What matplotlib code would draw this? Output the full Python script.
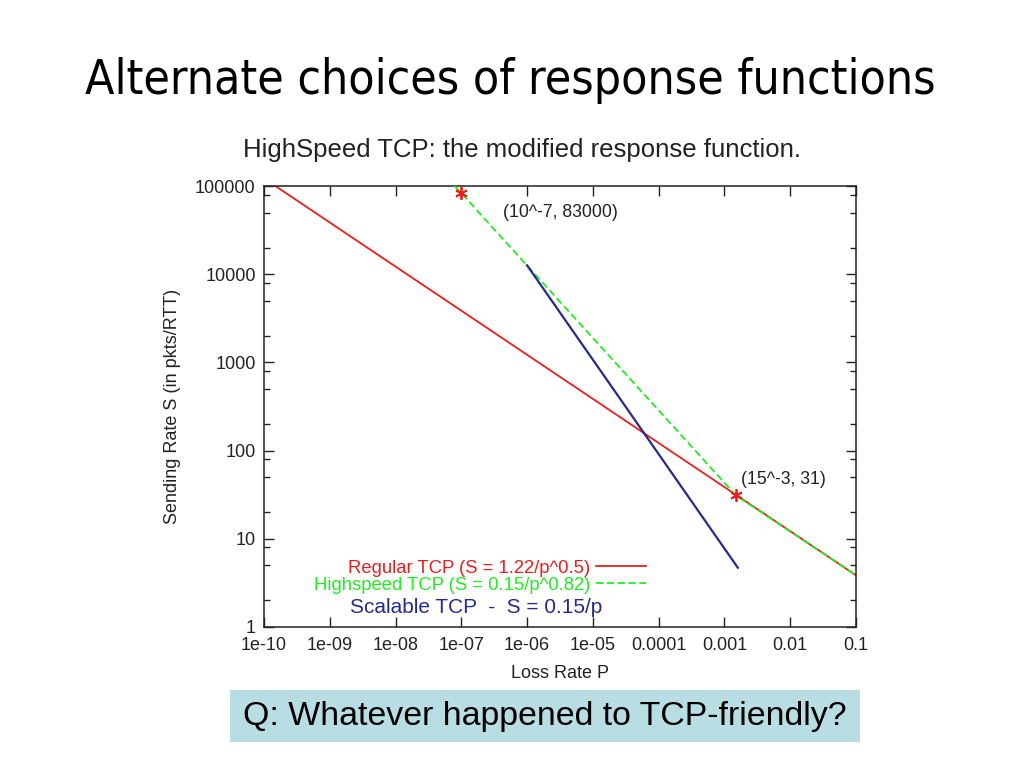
import numpy as np
import matplotlib
matplotlib.use("Agg")
import matplotlib.pyplot as plt
from matplotlib.patches import Rectangle
from matplotlib.ticker import FixedLocator, NullLocator

# Werte (log-log Geraden, Endpunkte reichen)
regular_p = [1.49e-10, 0.0015, 0.1]
regular_s = [100000, 31.5, 3.86]

highspeed_p = [7.9e-8, 1e-7, 0.0015, 0.1]
highspeed_s = [100000, 83000, 31, 3.86]

scalable_p = [1.0e-6, 1.6e-3]
scalable_s = [12600, 4.7]

points_p = [1e-7, 0.0015]
points_s = [83000, 31]
point_labels = ["(10^-7, 83000)", "(15^-3, 31)"]

x_ticks = [1e-10, 1e-9, 1e-8, 1e-7, 1e-6, 1e-5, 1e-4, 1e-3, 1e-2, 1e-1]
x_labels = ["1e-10", "1e-09", "1e-08", "1e-07", "1e-06", "1e-05",
            "0.0001", "0.001", "0.01", "0.1"]
y_ticks = [1, 10, 100, 1000, 10000, 100000]
y_labels = ["1", "10", "100", "1000", "10000", "100000"]
y_minor = [m * 10.0 ** k for k in range(0, 5) for m in (2, 5, 8)]

plt.rcParams['font.family'] = ['Liberation Sans', 'DejaVu Sans']

fig = plt.figure(figsize=(10.24, 7.68), dpi=100)
fig.patch.set_facecolor('white')

# Folientitel
fig.text(0.498, 0.895, "Alternate choices of response functions",
         ha='center', va='center', fontsize=34.5, family=['DejaVu Sans'],
         fontstretch='condensed', color='black')

ax = fig.add_axes([0.2578, 0.1836, 0.5781, 0.5742])
ax.set_xscale('log')
ax.set_yscale('log')
ax.set_xlim(1e-10, 0.1)
ax.set_ylim(1, 100000)

red = '#f01c1c'
green = '#1ef01e'
blue = '#262a8c'

ax.plot(regular_p, regular_s, color=red, lw=1.3, zorder=2,
        label="Regular TCP (S = 1.22/p^0.5)")
ax.plot(highspeed_p, highspeed_s, color=green, lw=1.3, ls=(0, (4, 2)),
        zorder=3, label="Highspeed TCP (S = 0.15/p^0.82)")
ax.plot(scalable_p, scalable_s, color=blue, lw=1.6, zorder=4)
ax.plot(points_p, points_s, ls='none', marker=(6, 2, 0), ms=9, mew=1.3,
        color=red, zorder=5, clip_on=False)

ax.text(10 ** -6.37, 10 ** 4.694, point_labels[0], ha='left', va='center',
        fontsize=12.7, color='#222222')
ax.text(10 ** -2.75, 10 ** 1.678, point_labels[1], ha='left', va='center',
        fontsize=12.7, color='#222222')

leg = ax.legend(loc='upper right', bbox_to_anchor=(0.645, 0.153),
                frameon=False, markerfirst=False, fontsize=13.3,
                handlelength=2.7, handletextpad=0.3, labelspacing=0.0,
                borderpad=0, borderaxespad=0, labelcolor='linecolor')

ax.text(0.145, 0.045, "Scalable TCP  -  S = 0.15/p", transform=ax.transAxes,
        ha='left', va='center', fontsize=15, color=blue)

ax.xaxis.set_major_locator(FixedLocator(x_ticks))
ax.set_xticklabels(x_labels)
ax.xaxis.set_minor_locator(NullLocator())
ax.yaxis.set_major_locator(FixedLocator(y_ticks))
ax.set_yticklabels(y_labels)
ax.yaxis.set_minor_locator(FixedLocator(y_minor))
ax.yaxis.set_minor_formatter(plt.NullFormatter())

ax.tick_params(which='both', direction='in', top=True, right=True,
               labelsize=13, colors='#222222')
ax.tick_params(which='major', length=7, width=1)
ax.tick_params(which='minor', length=4, width=1)
ax.tick_params(axis='x', pad=7)
ax.tick_params(axis='y', pad=6)
for s in ax.spines.values():
    s.set_linewidth(1.1)
    s.set_color('#222222')

ax.set_xlabel("Loss Rate P", fontsize=13, color='#222222', labelpad=8)
ax.set_ylabel("Sending Rate S (in pkts/RTT)", fontsize=13, color='#222222',
              labelpad=10)
fig.text(522 / 1024, 1 - 150 / 768,
         "HighSpeed TCP: the modified response function.", fontsize=18.5,
         color='#222222', ha='center', va='center')

# Frage-Box unten
fig.patches.append(Rectangle((230 / 1024, 1 - 742 / 768), 630 / 1024,
                             52 / 768, transform=fig.transFigure,
                             facecolor='#b8dee4', edgecolor='none'))
fig.text(545 / 1024, 1 - 717 / 768, "Q: Whatever happened to TCP-friendly?",
         ha='center', va='center', fontsize=24.4, color='black')

fig.savefig("out.png", dpi=100)
